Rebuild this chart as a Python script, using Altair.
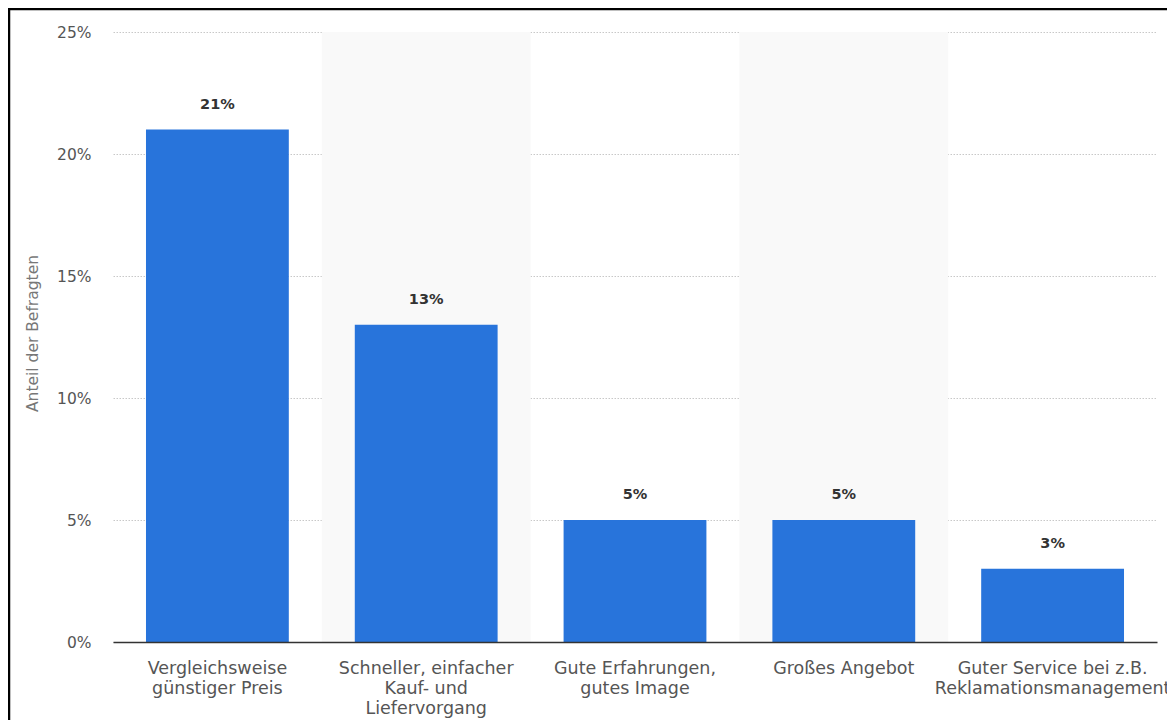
import altair as alt
import pandas as pd

categories = [
    "Vergleichsweise|günstiger Preis",
    "Schneller, einfacher|Kauf- und|Liefervorgang",
    "Gute Erfahrungen,|gutes Image",
    "Großes Angebot",
    "Guter Service bei z.B.|Reklamationsmanagement",
]
values = [21, 13, 5, 5, 3]
shaded = [False, True, False, True, False]
y_ticks = [0, 5, 10, 15, 20, 25]

df = pd.DataFrame({"cat": categories, "val": values, "shade": shaded})
bg_df = df[df["shade"]]

W, H = 1044, 610
FONT = "DejaVu Sans"
PAD_INNER = 0.316

x_enc = alt.X(
    "cat:N",
    sort=categories,
    scale=alt.Scale(paddingInner=PAD_INNER, paddingOuter=PAD_INNER / 2),
    axis=alt.Axis(
        title=None,
        labelAngle=0,
        ticks=False,
        grid=False,
        labelPadding=17,
        labelFontSize=17.5,
        labelColor="#555555",
        labelFont=FONT,
        labelLineHeight=20,
        labelBaseline="top",
        labelExpr="split(datum.label, '|')",
        labelLimit=400,
        labelOverlap=False,
        domainColor="#333333",
        domainWidth=1.5,
    ),
)

y_enc = alt.Y(
    "val:Q",
    scale=alt.Scale(domain=[0, 25], nice=False),
    axis=alt.Axis(
        values=y_ticks,
        labelExpr="datum.value + '%'",
        title="Anteil der Befragten",
        titleFontSize=15.5,
        titleFontWeight="normal",
        titleColor="#777777",
        titleFont=FONT,
        titleX=-81,
        titleY=301,
        titleAngle=-90,
        titleAlign="center",
        titleBaseline="middle",
        domain=False,
        ticks=False,
        labelPadding=22,
        labelFontSize=15.5,
        labelColor="#555555",
        labelFont=FONT,
        grid=True,
        gridColor="#c8c8c8",
        gridDash=[1.5, 1.5],
        gridWidth=1,
    ),
)

background = alt.Chart(bg_df).mark_rect(
    color="#f9f9f9", strokeWidth=0, width=alt.RelativeBandSize(1 / (1 - PAD_INNER))
).encode(
    x=x_enc,
    y=alt.value(0),
    y2=alt.value(H),
)

bars = alt.Chart(df).mark_bar(color="#2874db").encode(x=x_enc, y=y_enc)

labels = alt.Chart(df).mark_text(
    dy=-25, fontWeight="bold", fontSize=14.5, color="#333333", font=FONT, baseline="middle"
).encode(x=x_enc, y=y_enc, text=alt.Text("label:N")).transform_calculate(
    label="datum.val + '%'"
)

frame_df = pd.DataFrame({"k": [0]})
frame_left = alt.Chart(frame_df).mark_rule(color="#000000", strokeWidth=2.5, clip=False).encode(
    x=alt.value(-104), y=alt.value(-24), y2=alt.value(H + 200)
)
frame_top = alt.Chart(frame_df).mark_rule(color="#000000", strokeWidth=2.5, clip=False).encode(
    x=alt.value(-105), x2=alt.value(W + 200), y=alt.value(-23)
)

chart = (
    alt.layer(background, bars, labels, frame_left, frame_top)
    .properties(
        width=W,
        height=H,
        background="white",
        autosize=alt.AutoSizeParams(type="none"),
        padding={"left": 105, "top": 24, "right": 10, "bottom": 78},
    )
    .configure_view(stroke="transparent", strokeWidth=0)
)

chart.save("out.html", embed_options={"renderer": "svg", "actions": False})
